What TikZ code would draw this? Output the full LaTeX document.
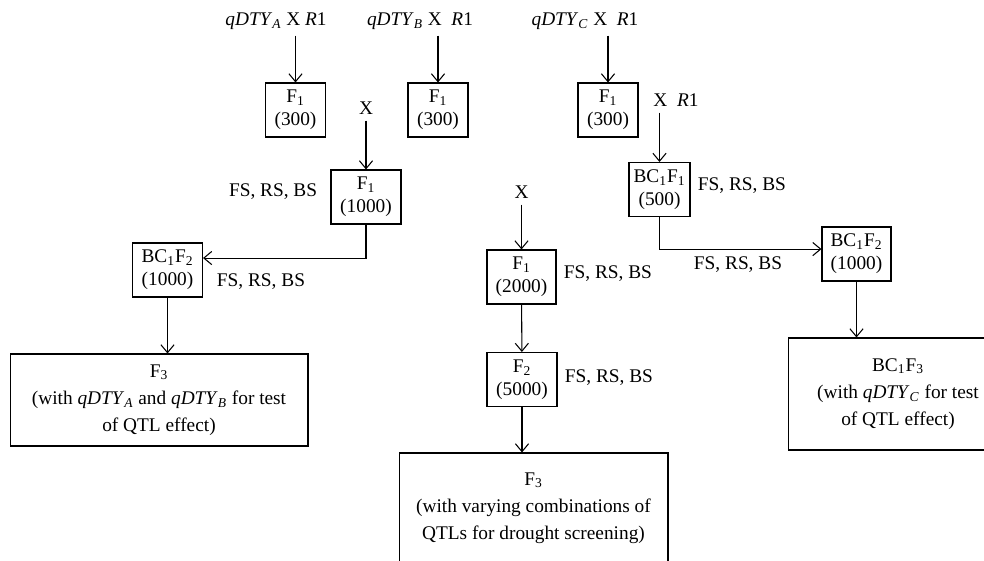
\documentclass[tikz,border=0pt]{standalone}
\usepackage{fontspec}
\setmainfont{Liberation Serif}
\usetikzlibrary{arrows.meta,positioning}
\newcommand{\qdty}[1]{\textit{qDTY}\textsubscript{\textit{#1}}}

\begin{document}
\begin{tikzpicture}[
  x=0.02cm, y=-0.02cm,
  font=\fontsize{11}{13}\selectfont,
  gen/.style={
    draw,
    line width=0.6pt,
    inner xsep=2pt,
    minimum width=1.2cm,
    minimum height=1.08cm,
    align=center
  },
  final/.style={
    draw,
    line width=0.6pt,
    align=center
  },
  sel/.style={inner sep=0pt},
  arrow/.style={-{Straight Barb[length=4.5pt,width=7.5pt]},line width=0.6pt}
]
  \useasboundingbox (0,0) rectangle (984,561);
  \clip (0,0) rectangle (984,561);
  % crosses
  \node (crossA) at (276,21) {\qdty{A} X \textit{R}1};
  \node (crossB) at (420,21) {\qdty{B} X \ \textit{R}1};
  \node (crossC) at (585,21) {\qdty{C} X \ \textit{R}1};
  \node[gen] (f1a) at (295.5,110) {F\textsubscript{1}\\(300)};
  \node[gen] (f1b) at (438,110) {F\textsubscript{1}\\(300)};
  \node[gen] (f1c) at (608,110) {F\textsubscript{1}\\(300)};

  % qDTY_A x qDTY_B
  \node (xAB) at (366,108) {X};
  \node[gen,minimum width=1.4cm] (f1000) at (366,197) {F\textsubscript{1}\\(1000)};
  \node[sel,left=0.26cm of f1000,yshift=3pt] (fsA1) {FS, RS, BS};
  \node[gen,minimum width=1.4cm] (bcA) at (167.5,270) {BC\textsubscript{1}F\textsubscript{2}\\(1000)};
  \node[sel] (fsA2) at (261,282) {FS, RS, BS};
  \node[final,minimum width=5.96cm,minimum height=1.84cm] (f3A) at (159,400)
    {F\textsubscript{3}\\[2.5pt](with \qdty{A} and \qdty{B} for test\\[2.5pt]of QTL effect)};

  % middle cross
  \node (xM) at (521.5,192) {X};
  \node[gen,minimum width=1.38cm] (f2000) at (521.5,277) {F\textsubscript{1}\\(2000)};
  \node[sel,right=0.14cm of f2000,yshift=2pt] (fsM1) {FS, RS, BS};
  \node[gen,minimum width=1.4cm] (f5000) at (522,379.5) {F\textsubscript{2}\\(5000)};
  \node[sel,right=0.14cm of f5000,yshift=1pt] (fsM2) {FS, RS, BS};
  \node[final,minimum width=5.38cm,minimum height=2.2cm] (f3M) at (533.5,508)
    {F\textsubscript{3}\\[2.5pt](with varying combinations of\\[2.5pt]QTLs for drought screening)};

  % qDTY_C backcross
  \node (xC) at (676,100) {X \ \textit{R}1};
  \node[gen,minimum width=1.22cm] (bc1) at (659.5,189.5) {BC\textsubscript{1}F\textsubscript{1}\\(500)};
  \node[sel,right=0.14cm of bc1,yshift=2pt] (fsC1) {FS, RS, BS};
  \node[gen,minimum width=1.38cm] (bcC) at (856.5,254) {BC\textsubscript{1}F\textsubscript{2}\\(1000)};
  \node[sel] (fsC2) at (738,265) {FS, RS, BS};
  \node[final,minimum width=4.4cm,minimum height=2.24cm] (bc3) at (898,394)
    {BC\textsubscript{1}F\textsubscript{3}\\[2.5pt](with \qdty{C} for test\\[2.5pt]of QTL effect)};

  \draw[arrow] (crossA.south -| f1a) -- (f1a.north);
  \draw[arrow] (crossB.south -| f1b) -- (f1b.north);
  \draw[arrow] (crossC.south -| f1c) -- (f1c.north);
  \draw[arrow] (xAB) -- (f1000);
  \draw[arrow] (f1000.south) |- ([yshift=6.8pt]bcA.east);
  \draw[arrow] (bcA) -- (f3A.north -| bcA);
  \draw[arrow] (xM) -- (f2000);
  \draw[arrow] (f2000) -- (f5000);
  \draw[arrow] (f5000) -- (f3M.north -| f5000);
  \draw[arrow] (xC.south -| bc1) -- (bc1.north);
  \draw[arrow] (bc1.south) |- ([yshift=2.8pt]bcC.west);
  \draw[arrow] (bcC) -- (bc3.north -| bcC);
\end{tikzpicture}
\end{document}
